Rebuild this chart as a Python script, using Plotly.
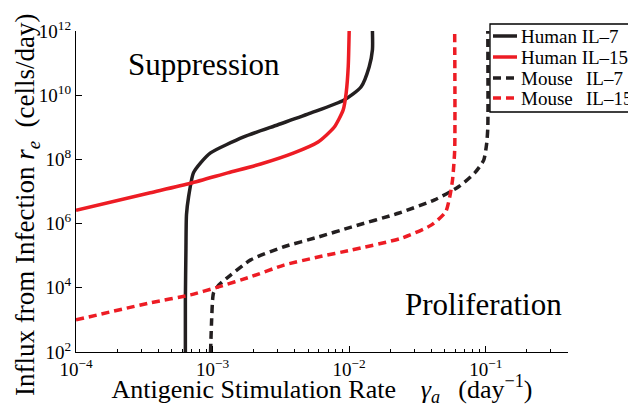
import plotly.graph_objects as go

# ---- data ----
human_il7_x = [6.32e-4, 6.32e-4, 6.38e-4, 6.44e-4, 6.67e-4, 7.24e-4, 8.17e-4, 9.66e-4,
               1.69e-3, 3.01e-3, 5.26e-3, 9.18e-3, 1.22e-2, 1.40e-2, 1.48e-2, 1.48e-2]
human_il7_y = [1e2, 4.2e3, 1.5e5, 1.9e6, 6.8e6, 3.8e7, 7.8e7, 1.6e8,
               5.0e8, 1.2e9, 2.8e9, 7.1e9, 1.8e10, 7.6e10, 2.6e11, 1e12]

human_il15_x = [1e-4, 3.50e-4, 6.89e-4, 1.29e-3, 2.25e-3, 3.94e-3, 5.92e-3, 7.76e-3,
                9.04e-3, 9.51e-3, 9.84e-3, 1.0e-2]
human_il15_y = [2.6e6, 9.1e6, 1.8e7, 3.8e7, 7.2e7, 1.6e8, 3.5e8, 1.0e9,
                3.5e9, 1.2e10, 7.6e10, 1e12]

mouse_il7_x = [9.66e-4, 9.84e-4, 1.0e-3, 1.016e-3, 1.107e-3, 1.355e-3, 1.90e-3, 3.33e-3,
               5.92e-3, 1.035e-2, 2.29e-2, 4.22e-2, 6.32e-2, 8.30e-2, 9.66e-2, 1.016e-1,
               1.035e-1, 1.035e-1]
mouse_il7_y = [1e2, 1e3, 4.2e3, 6.9e3, 1.2e4, 2.5e4, 7.4e4, 1.9e5,
               3.8e5, 7.8e5, 2.1e6, 5.5e6, 1.4e7, 3.8e7, 9.5e7, 3.2e8,
               1.0e9, 1e12]

mouse_il15_x = [1e-4, 3.50e-4, 6.89e-4, 1.09e-3, 1.90e-3, 3.33e-3, 5.92e-3, 1.035e-2,
                2.41e-2, 4.01e-2, 5.08e-2, 5.43e-2, 5.71e-2, 5.92e-2, 5.92e-2]
mouse_il15_y = [1e3, 3.4e3, 6.0e3, 1.05e4, 2.2e4, 5.1e4, 9.1e4, 1.5e5,
                3.5e5, 9.1e5, 2.3e6, 6.3e6, 2.3e7, 1.9e8, 1e12]

series_names = ["Human IL\u20137", "Human IL\u201315",
                "Mouse\u00a0\u00a0\u2009IL\u20137", "Mouse\u00a0\u00a0\u2009IL\u201315"]
x_tickvals = [1e-4, 1e-3, 1e-2, 1e-1]
x_ticktext = ["10<sup>\u22124</sup>", "10<sup>\u22123</sup>", "10<sup>\u22122</sup>", "10<sup>\u22121</sup>"]
y_tickvals = [1e2, 1e4, 1e6, 1e8, 1e10, 1e12]
y_ticktext = ["10<sup>2</sup>", "10<sup>4</sup>", "10<sup>6</sup>", "10<sup>8</sup>",
              "10<sup>10</sup>", "10<sup>12</sup>"]

BLACK = "#231f20"
RED = "#ed1c24"
FONT = "Liberation Serif"
DASH = "8px,5px"

# page is rendered with an 8px body margin; plot area target: x 76..568, y 31..352 (page px)
W, H = 628, 399
ML, MT, MR, MB = 68, 23, 68, 55
PW, PH = W - ML - MR, H - MT - MB


def px(xp):  # page x -> paper x
    return (xp - 8 - ML) / PW


def py(yp):  # page y -> paper y
    return (H - MB - (yp - 8)) / PH


fig = go.Figure()
specs = [
    (human_il7_x, human_il7_y, series_names[0], BLACK, "solid"),
    (human_il15_x, human_il15_y, series_names[1], RED, "solid"),
    (mouse_il7_x, mouse_il7_y, series_names[2], BLACK, DASH),
    (mouse_il15_x, mouse_il15_y, series_names[3], RED, DASH),
]
for xs, ys, name, col, dash in specs:
    fig.add_trace(go.Scatter(x=xs, y=ys, name=name, mode="lines", showlegend=False,
                             line=dict(color=col, width=3.5, dash=dash,
                                       shape="spline", smoothing=0.6)))

# legend box (drawn as shapes/text so its compact spacing matches the original)
shapes = [dict(type="rect", xref="paper", yref="paper",
               x0=px(490), x1=px(720), y0=py(112), y1=py(24),
               line=dict(color="black", width=1.3), fillcolor="white", layer="above")]
annotations = []
legend_rows = [36, 57, 78, 98]
for (xs, ys, name, col, dash), yrow in zip(specs, legend_rows):
    shapes.append(dict(type="line", xref="paper", yref="paper",
                       x0=px(493), x1=px(517), y0=py(yrow), y1=py(yrow),
                       line=dict(color=col, width=3.5, dash=dash), layer="above"))
    annotations.append(dict(text=name, x=px(519), y=py(yrow), xref="paper", yref="paper",
                            xanchor="left", yanchor="middle", showarrow=False,
                            font=dict(family=FONT, size=19, color="black")))

NB = "\u00a0"
TH = "\u2009"
annotations += [
    dict(text="Suppression", x=px(204), y=py(64), xref="paper", yref="paper",
         xanchor="center", yanchor="middle",
         showarrow=False, font=dict(family=FONT, size=31, color="black")),
    dict(text="Proliferation", x=px(483), y=py(304), xref="paper", yref="paper",
         xanchor="center", yanchor="middle",
         showarrow=False, font=dict(family=FONT, size=31, color="black")),
    # y-axis title
    dict(text="Influx from Infection <i>r</i><sub><i>e</i></sub>" + NB * 2 + "(cells/day)",
         x=px(27), y=py(205), xref="paper", yref="paper", textangle=-90,
         xanchor="center", yanchor="middle", showarrow=False,
         font=dict(family=FONT, size=27, color="black")),
]

fig.update_layout(
    width=W, height=H,
    margin=dict(l=ML, r=MR, t=MT, b=MB, autoexpand=False),
    paper_bgcolor="white", plot_bgcolor="white",
    font=dict(family=FONT, size=19, color="black"),
    showlegend=False,
    shapes=shapes,
    annotations=annotations,
)

fig.update_xaxes(
    type="log", range=[-4, -0.398],
    tickvals=x_tickvals, ticktext=x_ticktext,
    ticks="inside", ticklen=6, tickcolor="black", tickwidth=1,
    minor=dict(ticks="inside", ticklen=3, tickcolor="black", dtick="D1", showgrid=False),
    showline=True, linecolor="black", linewidth=1.3, mirror=False,
    showgrid=False, zeroline=False,
    tickfont=dict(family=FONT, size=19, color="black"),
    title=dict(text="Antigenic Stimulation Rate" + NB * 3 + TH + "<i>\u03b3</i><sub><i>a</i></sub>"
               + NB * 2 + TH + "(day<sup>\u22121</sup>)",
               font=dict(family=FONT, size=26, color="black"), standoff=3),
)
fig.update_yaxes(
    type="log", range=[2, 12],
    tickvals=y_tickvals, ticktext=y_ticktext,
    ticks="inside", ticklen=6, tickcolor="black", tickwidth=1,
    showline=True, linecolor="black", linewidth=1.3, mirror=False,
    showgrid=False, zeroline=False,
    tickfont=dict(family=FONT, size=19, color="black"),
)

fig.write_html("out.html")
